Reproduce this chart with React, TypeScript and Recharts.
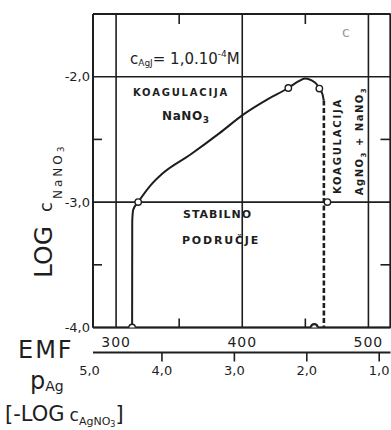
import { ComposedChart, Line, Scatter, XAxis, YAxis, CartesianGrid } from "recharts";

// boundary of the stable region (EMF in mV, log c NaNO3)
const boundaryCurve = [
  { emf: 312.7, log: -4.0 },
  { emf: 312.8, log: -3.15 },
  { emf: 313.6, log: -3.06 },
  { emf: 317.5, log: -3.0 },
  { emf: 327, log: -2.87 },
  { emf: 337, log: -2.77 },
  { emf: 359, log: -2.62 },
  { emf: 382, log: -2.45 },
  { emf: 401, log: -2.3 },
  { emf: 420, log: -2.18 },
  { emf: 436.5, log: -2.09 },
  { emf: 444, log: -2.04 },
  { emf: 450, log: -2.015 },
  { emf: 455, log: -2.03 },
  { emf: 459, log: -2.06 },
  { emf: 461.1, log: -2.095 },
  { emf: 463.6, log: -2.14 },
  { emf: 464.6, log: -2.19 },
];

const dashedBoundary = [
  { emf: 464.7, log: -2.19 },
  { emf: 464.7, log: -4.0 },
];

const openPoints = [
  { emf: 317.5, log: -3.0 },
  { emf: 436.5, log: -2.09 },
  { emf: 461.1, log: -2.095 },
  { emf: 467.5, log: -3.0 },
  { emf: 312.7, log: -4.0 },
];
const darkPoints = [{ emf: 457.1, log: -4.0 }];

const emfDomain = [281.7, 517.5];
const emfTicks = [300, 400, 500];
const emfMinorTicks = [350, 450];
const logDomain = [-4, -1.5];
const logTicks = [-4, -3, -2];
const logMinorTicks = [-3.5, -2.5];
const pAgDomain = [0.844, 4.952];
const pAgTicks = [5, 4, 3, 2, 1];

const FONT = "DejaVu Sans";
const INK = "#1e1e1e";

const comma = (v: number) => v.toFixed(1).replace(".", ",");

function LogTick({ x, y, payload }: any) {
  return (
    <text x={x} y={y} dy={4.5} textAnchor="end" fontFamily={FONT} fontSize={13} fill={INK}>
      {comma(payload.value)}
    </text>
  );
}

function EmfTick({ x, y, payload }: any) {
  return (
    <text x={x} y={y + 11} textAnchor="middle" fontFamily={FONT} fontSize={14} fill={INK} letterSpacing={1}>
      {payload.value}
    </text>
  );
}

function PAgTick({ x, y, payload }: any) {
  return (
    <g>
      {payload.value !== 5 && <line x1={x} x2={x} y1={y - 8} y2={y + 1} stroke={INK} strokeWidth={1.6} />}
      <text x={x} y={y + 14} textAnchor="middle" fontFamily={FONT} fontSize={13} fill={INK}>
        {comma(payload.value)}
      </text>
    </g>
  );
}

const NoLabel = () => <g />;

function Ring({ cx, cy, dark }: any) {
  return <circle cx={cx} cy={cy} r={dark ? 3.4 : 3.2} fill="#fff" stroke={INK} strokeWidth={dark ? 2.3 : 1.4} />;
}

function Annotations() {
  return (
    <svg width={391} height={430} style={{ position: "absolute", left: 0, top: 0, pointerEvents: "none" }}>
      <g fontFamily={FONT} fill={INK}>
        <text x={130} y={64} fontSize={15}>
          c<tspan fontSize={9} dy={2}>AgJ</tspan>
          <tspan fontSize={15} dy={-2}>= 1,0.10</tspan>
          <tspan fontSize={9} dy={-7}>-4</tspan>
          <tspan fontSize={15} dy={7}>M</tspan>
        </text>
        <text x={342} y={37} fontSize={14} fill="#999">c</text>

        <text x={133} y={96} fontSize={10} fontWeight="bold" letterSpacing={1.8}>KOAGULACIJA</text>
        <text x={162} y={120} fontSize={12} fontWeight="bold" letterSpacing={0.6}>
          NaNO<tspan fontSize={9} dy={3}>3</tspan>
        </text>
        <text x={183} y={218} fontSize={11} fontWeight="bold" letterSpacing={1}>STABILNO</text>
        <text x={182} y={244} fontSize={11} fontWeight="bold" letterSpacing={1.8}>PODRUČJE</text>

        <text transform="translate(337,146) rotate(-90)" y={3.6} textAnchor="middle" fontSize={10} fontWeight="bold" letterSpacing={1.8}>
          KOAGULACIJA
        </text>
        <text transform="translate(359,141) rotate(-90)" y={3.6} textAnchor="middle" fontSize={10} fontWeight="bold" letterSpacing={1.5}>
          AgNO<tspan fontSize={7} dy={3}>3</tspan>
          <tspan dy={-3}> + NaNO</tspan>
          <tspan fontSize={7} dy={3}>3</tspan>
        </text>

        <text transform="translate(52,278) rotate(-90)" fontSize={25}>
          LOG
          <tspan dx={14} fontSize={18}>c</tspan>
          <tspan dx={3} dy={10} fontSize={12} letterSpacing={3}>NaNO</tspan>
          <tspan dy={2} fontSize={9}>3</tspan>
        </text>

        <text x={18} y={358} fontSize={24} letterSpacing={2}>EMF</text>
        <text x={30} y={389} fontSize={24}>
          p<tspan fontSize={14} dy={2}>Ag</tspan>
        </text>
        <text x={5} y={421} fontSize={21}>
          [-LOG
          <tspan dx={5} fontSize={17}>c</tspan>
          <tspan fontSize={11} dy={4}>AgNO</tspan>
          <tspan fontSize={8} dy={2}>3</tspan>
          <tspan fontSize={21} dy={-6}>]</tspan>
        </text>
      </g>
    </svg>
  );
}

export default function App() {
  const axisStroke = { stroke: INK, strokeWidth: 2 };
  const minorTick = { stroke: INK, strokeWidth: 1.6 };
  return (
    <div style={{ position: "absolute", left: 0, top: 0, width: 391, height: 430, background: "#fff" }}>
      <ComposedChart width={391} height={430} data={boundaryCurve} margin={{ top: 14, right: 0.5, bottom: 47.5, left: 0 }}>
        <CartesianGrid stroke={INK} strokeWidth={1.6} />
        <XAxis
          dataKey="emf"
          type="number"
          domain={emfDomain}
          allowDataOverflow
          ticks={emfTicks}
          interval={0}
          tickLine={false}
          axisLine={axisStroke}
          height={25}
          tick={<EmfTick />}
        />
        <XAxis
          xAxisId="pag"
          dataKey="pag"
          type="number"
          domain={pAgDomain}
          allowDataOverflow
          reversed
          ticks={pAgTicks}
          interval={0}
          tickLine={false}
          axisLine={{ stroke: INK, strokeWidth: 1.8 }}
          height={30}
          tick={<PAgTick />}
        />
        <XAxis
          xAxisId="topMinor"
          dataKey="emf"
          orientation="top"
          mirror
          type="number"
          domain={emfDomain}
          allowDataOverflow
          ticks={emfMinorTicks}
          interval={0}
          tickSize={10}
          tick={<NoLabel />}
          tickLine={minorTick}
          axisLine={axisStroke}
        />
        <XAxis
          xAxisId="bottomMinor"
          dataKey="emf"
          orientation="bottom"
          mirror
          type="number"
          domain={emfDomain}
          allowDataOverflow
          ticks={emfMinorTicks}
          interval={0}
          tickSize={9}
          tick={<NoLabel />}
          tickLine={minorTick}
          axisLine={false}
        />
        <YAxis
          dataKey="log"
          type="number"
          domain={logDomain}
          allowDataOverflow
          ticks={logTicks}
          interval={0}
          width={93}
          tickSize={3}
          tickMargin={0}
          tickLine={false}
          axisLine={axisStroke}
          tick={<LogTick />}
        />
        <YAxis
          yAxisId="leftMinor"
          dataKey="log"
          orientation="left"
          mirror
          type="number"
          domain={logDomain}
          allowDataOverflow
          ticks={logMinorTicks}
          interval={0}
          tickSize={9}
          tick={<NoLabel />}
          tickLine={minorTick}
          axisLine={false}
        />
        <YAxis
          yAxisId="rightMinor"
          dataKey="log"
          orientation="right"
          mirror
          type="number"
          domain={logDomain}
          allowDataOverflow
          ticks={logMinorTicks}
          interval={0}
          tickSize={10}
          tick={<NoLabel />}
          tickLine={minorTick}
          axisLine={axisStroke}
        />
        <Line data={boundaryCurve} dataKey="log" type="monotone" stroke={INK} strokeWidth={2} dot={false} isAnimationActive={false} />
        <Line data={dashedBoundary} dataKey="log" type="linear" stroke={INK} strokeWidth={2.6} strokeDasharray="5 2.5" dot={false} isAnimationActive={false} />
        <Scatter data={openPoints} dataKey="log" shape={<Ring />} isAnimationActive={false} />
        <Scatter data={darkPoints} dataKey="log" shape={<Ring dark />} isAnimationActive={false} />
      </ComposedChart>
      <Annotations />
    </div>
  );
}
